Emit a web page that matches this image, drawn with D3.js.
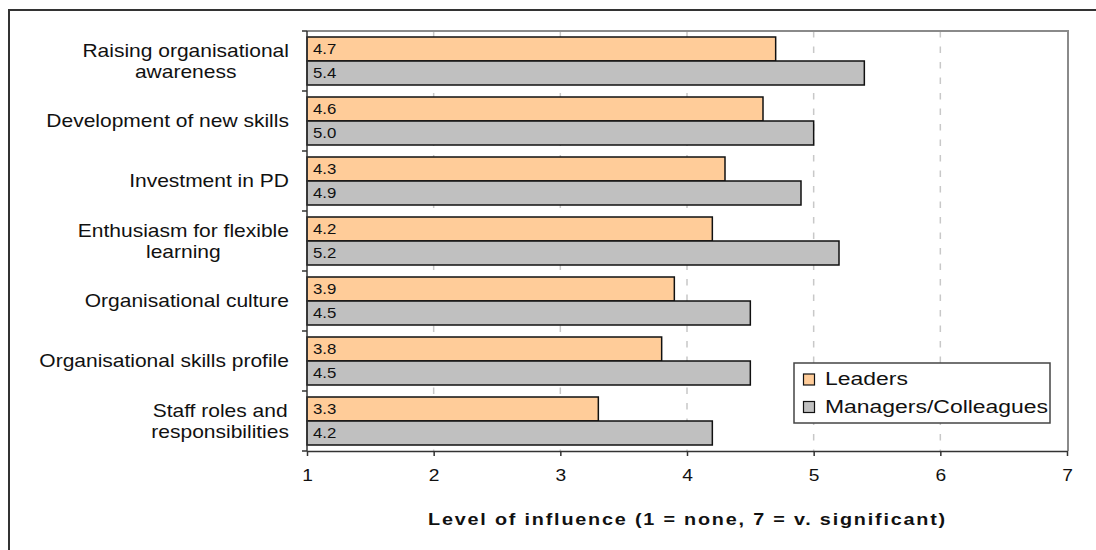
<!DOCTYPE html>
<html>
<head>
<meta charset="utf-8">
<script src="https://cdn.jsdelivr.net/npm/d3@7/dist/d3.min.js"></script>
<style>
  html, body { margin: 0; padding: 0; background: #fff; }
  svg { display: block; }
  text { font-family: "Liberation Sans", Arial, sans-serif; fill: #111; }
</style>
</head>
<body>
<svg id="chart" width="1096" height="550"></svg>
<script>
// Survey results: level of influence by factor, two respondent groups
const categories = [
  "Raising organisational\nawareness",
  "Development of new skills",
  "Investment in PD",
  "Enthusiasm for flexible\nlearning",
  "Organisational culture",
  "Organisational skills profile",
  "Staff roles and\nresponsibilities"
];
const leaders  = [4.7, 4.6, 4.3, 4.2, 3.9, 3.8, 3.3];
const managers = [5.4, 5.0, 4.9, 5.2, 4.5, 4.5, 4.2];
const seriesNames = ["Leaders", "Managers/Colleagues"];
const seriesColors = ["#FFCC99", "#C0C0C0"];
const xTicks = [1, 2, 3, 4, 5, 6, 7];
const gridTicks = [2, 3, 4, 5, 6];
const axisTitle = "Level of influence (1 = none, 7 = v. significant)";

const SX = 1.2; // horizontal text stretch
const svg = d3.select("#chart");

const plot = { left: 307, right: 1068, top: 31, bottom: 451 };

const x = d3.scaleLinear().domain([1, 7]).range([plot.left, plot.right - 1]);
const y = d3.scaleBand().domain(d3.range(categories.length))
  .range([plot.top, plot.bottom]).paddingInner(0.2).paddingOuter(0.1);
const yInner = d3.scaleBand().domain([0, 1]).range([0, y.bandwidth()]);

// outer frame (left and top edges)
svg.append("path")
  .attr("d", "M9,550 V10 H1096")
  .attr("fill", "none").attr("stroke", "#333").attr("stroke-width", 2);

// gridlines
svg.append("g").selectAll("line").data(gridTicks).join("line")
  .attr("x1", d => x(d)).attr("x2", d => x(d))
  .attr("y1", plot.top).attr("y2", plot.bottom)
  .attr("stroke", "#c8c8c8").attr("stroke-width", 1.5)
  .attr("stroke-dasharray", "6.5,9");

// plot border: top and right
svg.append("path")
  .attr("d", `M${plot.left},${plot.top} H${plot.right} V${plot.bottom}`)
  .attr("fill", "none").attr("stroke", "#8a8a8a").attr("stroke-width", 2);

// bars
const series = [leaders, managers];
const barG = svg.append("g");
series.forEach((vals, s) => {
  barG.selectAll(null).data(vals).join("rect")
    .attr("x", x(1))
    .attr("y", (d, i) => y(i) + yInner(s))
    .attr("width", d => x(d) - x(1))
    .attr("height", yInner.bandwidth())
    .attr("fill", seriesColors[s])
    .attr("stroke", "#111").attr("stroke-width", 1.5);
  barG.selectAll(null).data(vals).join("text")
    .attr("transform", (d, i) =>
      `translate(${x(1) + 6},${y(i) + yInner(s) + yInner.bandwidth() / 2 + 5}) scale(${SX},1)`)
    .style("font-size", "14px")
    .text(d => d.toFixed(1));
});

// x axis
const xAxis = svg.append("g")
  .attr("transform", `translate(0,${plot.bottom})`)
  .call(d3.axisBottom(x).tickValues(xTicks).tickSize(5).tickSizeOuter(0).tickFormat(d3.format("d")));
xAxis.select(".domain").attr("stroke", "#333").attr("stroke-width", 1.5);
xAxis.selectAll(".tick line").attr("stroke", "#333").attr("stroke-width", 1.5);
xAxis.selectAll(".tick text")
  .attr("y", 0).attr("dy", null)
  .attr("transform", `translate(0,30) scale(${SX},1)`)
  .style("font-size", "16px").style("font-family", "'Liberation Sans', Arial, sans-serif")
  .attr("fill", "#111");

// y axis: ticks at category boundaries
const yAxisG = svg.append("g");
yAxisG.append("line")
  .attr("x1", plot.left).attr("x2", plot.left)
  .attr("y1", plot.top).attr("y2", plot.bottom)
  .attr("stroke", "#333").attr("stroke-width", 1.5);
const step = y.step();
yAxisG.selectAll(".ytick").data(d3.range(categories.length + 1)).join("line")
  .attr("x1", plot.left - 5).attr("x2", plot.left)
  .attr("y1", d => plot.top + d * step).attr("y2", d => plot.top + d * step)
  .attr("stroke", "#333").attr("stroke-width", 1.5);

// category labels: lines centred within a block right-aligned near the axis
const labelRight = 289;
const lineH = 21.5;
categories.forEach((c, i) => {
  const lines = c.split("\n");
  const cy = plot.top + (i + 0.5) * step;
  const g = svg.append("g");
  const texts = lines.map((ln, k) => g.append("text")
    .style("font-size", "17.5px")
    .attr("text-anchor", "middle")
    .text(ln));
  const maxW = d3.max(texts, t => t.node().getComputedTextLength()) * SX;
  const cx = labelRight - maxW / 2;
  texts.forEach((t, k) => {
    const base = cy + 6.3 + (k - (lines.length - 1) / 2) * lineH;
    t.attr("transform", `translate(${cx},${base}) scale(${SX},1)`);
  });
});

// axis title
svg.append("text")
  .attr("transform", `translate(${(plot.left + plot.right) / 2},525) scale(${SX},1)`)
  .attr("text-anchor", "middle")
  .style("font-size", "16.5px").style("font-weight", "bold")
  .style("letter-spacing", "1.5px")
  .text(axisTitle);

// legend
const lg = svg.append("g");
lg.append("rect").attr("x", 794).attr("y", 363).attr("width", 256).attr("height", 60)
  .attr("fill", "#fff").attr("stroke", "#444").attr("stroke-width", 1.5);
seriesNames.forEach((n, s) => {
  const yy = 374 + s * 27.5;
  lg.append("rect").attr("x", 803.5).attr("y", yy).attr("width", 11).attr("height", 11)
    .attr("fill", seriesColors[s]).attr("stroke", "#111").attr("stroke-width", 1.2);
  lg.append("text")
    .attr("transform", `translate(825,${yy + 11.3}) scale(1.24,1)`)
    .style("font-size", "18.5px")
    .text(n);
});
</script>
</body>
</html>
